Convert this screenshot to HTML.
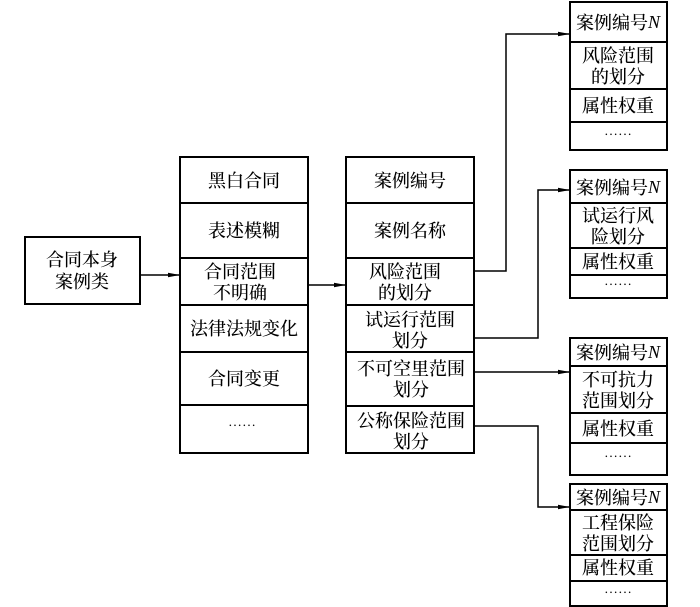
<!DOCTYPE html>
<html><head><meta charset="utf-8"><style>
html,body{margin:0;padding:0;background:#fff;}
svg{display:block;}
text{font-family:"Noto Serif CJK SC","Liberation Serif",serif;font-size:18px;font-weight:500;fill:#000;text-anchor:middle;dominant-baseline:central;}
.n{font-family:"Liberation Serif",serif;font-style:italic;}
</style></head><body>
<svg width="700" height="607" viewBox="0 0 700 607" xmlns="http://www.w3.org/2000/svg">
<defs><marker id="a" markerWidth="12" markerHeight="6" refX="12" refY="3" orient="auto" markerUnits="userSpaceOnUse"><path d="M0,0.8 L12,3 L0,5.2 Z" fill="#000"/></marker></defs>
<g fill="none" stroke="#000" stroke-width="2">
<rect x="25" y="237" width="115" height="67"/>
<rect x="180" y="157" width="128" height="296"/>
<path d="M180,203H308M180,258H308M180,305H308M180,352H308M180,405H308"/>
<rect x="346" y="157" width="128" height="296"/>
<path d="M346,203H474M346,258H474M346,305H474M346,352H474M346,406H474"/>
<rect x="570" y="2" width="97" height="148"/>
<path d="M570,42H667M570,89H667M570,122H667"/>
<rect x="570" y="170" width="97" height="128"/>
<path d="M570,203H667M570,248H667M570,275H667"/>
<rect x="570" y="338" width="97" height="137"/>
<path d="M570,366H667M570,413H667M570,443H667"/>
<rect x="570" y="484" width="97" height="122"/>
<path d="M570,510H667M570,555H667M570,581H667"/>
</g>
<g fill="none" stroke="#000" stroke-width="1.5">
<path d="M140,275H180" marker-end="url(#a)"/>
<path d="M308,285H346" marker-end="url(#a)"/>
<path d="M474,271H506V34H570" marker-end="url(#a)"/>
<path d="M474,338H538V190H570" marker-end="url(#a)"/>
<path d="M474,372H570" marker-end="url(#a)"/>
<path d="M474,426H538V507H570" marker-end="url(#a)"/>
</g>
<text x="82" y="259">合同本身</text><text x="82" y="281">案例类</text>
<text x="244" y="180">黑白合同</text>
<text x="244" y="230">表述模糊</text>
<text x="240" y="271">合同范围</text><text x="240" y="292">不明确</text>
<text x="244" y="328">法律法规变化</text>
<text x="244" y="378">合同变更</text>
<text x="242" y="426" style="font-size:14px">……</text>
<text x="410" y="180">案例编号</text>
<text x="410" y="230">案例名称</text>
<text x="405" y="271">风险范围</text><text x="405" y="292">的划分</text>
<text x="410" y="319">试运行范围</text><text x="410" y="340">划分</text>
<text x="411" y="368">不可空里范围</text><text x="411" y="389">划分</text>
<text x="411" y="420">公称保险范围</text><text x="411" y="441">划分</text>
<g>
<text x="618" y="22">案例编号<tspan class="n">N</tspan></text>
<text x="618" y="55">风险范围</text><text x="618" y="76">的划分</text>
<text x="618" y="105">属性权重</text>
<text x="618" y="135" style="font-size:14px">……</text>
<text x="618" y="187">案例编号<tspan class="n">N</tspan></text>
<text x="618" y="215">试运行风</text><text x="618" y="236">险划分</text>
<text x="618" y="261">属性权重</text>
<text x="618" y="285" style="font-size:14px">……</text>
<text x="618" y="352">案例编号<tspan class="n">N</tspan></text>
<text x="618" y="379">不可抗力</text><text x="618" y="400">范围划分</text>
<text x="618" y="428">属性权重</text>
<text x="618" y="457" style="font-size:14px">……</text>
<text x="618" y="497">案例编号<tspan class="n">N</tspan></text>
<text x="618" y="522">工程保险</text><text x="618" y="543">范围划分</text>
<text x="618" y="567">属性权重</text>
<text x="618" y="593" style="font-size:14px">……</text>
</g>
</svg>
</body></html>
